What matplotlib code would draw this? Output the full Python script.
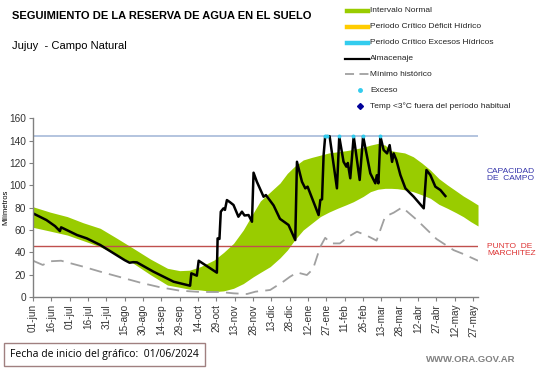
import matplotlib.pyplot as plt
from matplotlib.lines import Line2D
from matplotlib.patches import Rectangle

plt.rcParams['font.family'] = ['Liberation Sans', 'DejaVu Sans']

# days since 01/06/2024
tick_labels = ['01-jun', '16-jun', '01-jul', '16-jul', '31-jul', '15-ago', '30-ago', '14-sep',
               '29-sep', '14-oct', '29-oct', '13-nov', '28-nov', '13-dic', '28-dic', '12-ene',
               '27-ene', '11-feb', '26-feb', '13-mar', '28-mar', '12-abr', '27-abr', '12-may', '27-may']

# Intervalo normal (banda verde)
band_days = [0, 14, 28, 41, 55, 68, 82, 96, 110, 120, 128, 137, 148, 156, 164, 172, 180, 186,
             194, 202, 208, 214, 221, 228, 235, 242, 249, 256, 262, 270, 276, 282, 288, 293,
             298, 304, 311, 318, 325, 332, 339, 346, 352, 358, 364]
band_upper = [80.8, 76, 72, 66.5, 61.5, 53, 43.6, 34, 25.7, 23.6, 24, 27.2, 33, 40, 48, 60, 75, 86,
              94, 102, 110.7, 117, 122.7, 125, 127, 129, 130, 131, 132.2, 134, 136, 137.5, 136, 131,
              130, 129, 125.6, 120, 113.7, 106, 100.3, 95, 90.4, 86.5, 82.4]
band_lower = [62.4, 59, 55.5, 50.5, 45, 38, 30.2, 20, 10.7, 8.7, 7, 6.3, 4.8, 5.5, 7.8, 12, 18, 22,
              27.2, 35, 42, 51, 60, 66, 72, 76, 79.4, 82.5, 85.3, 90, 94.3, 96.5, 97.3, 97.3,
              97, 96, 94.3, 91.5, 88.4, 83, 79.4, 75.5, 71.9, 67.5, 63.6]

# Minimo historico
min_days = [0, 8, 14, 23, 28, 41, 55, 68, 88, 104, 120, 137, 153, 164, 175, 182, 194, 205, 210,
            216, 224, 229, 235, 239, 244, 251, 258, 265, 273, 281, 288, 295, 302, 314, 330, 344,
            352, 364]
min_vals = [32.5, 28.7, 32, 32.5, 31, 27.2, 22.7, 18.8, 12.8, 8.7, 5.7, 4.5, 4.5, 3.3, 2.7, 4.8,
            6.3, 14, 18, 22, 19.7, 25, 45, 53, 48, 48, 54, 58.5, 55, 50.5, 72, 75.5, 80.3, 69,
            52, 42, 38.5, 32.5]

# Almacenaje
alm_days = [0, 11, 18, 20.7, 22, 23, 36, 44, 55, 66, 75, 79, 82, 85, 98.5, 115, 128.5, 129.5, 134,
            135.5, 150.4, 151, 152.5, 153.6, 155.8, 157, 158.6, 161, 164, 168, 170.9, 173, 176.3,
            179.1, 180.4, 183.1, 188.6, 190.5, 196.8, 202, 209, 214.5, 215.9, 220, 222.7, 224.6,
            233.6, 235, 236.4, 237.7, 239, 242.6, 248.6, 250.5, 254, 256.3, 257.5, 259.5, 262.3,
            267.2, 270, 275.9, 280, 281.2, 282.5, 284.1, 286.8, 289.6, 291.7, 293.7, 295, 297.2,
            300.5, 304.6, 307.3, 311.4, 319.6, 321.8, 325, 329.1, 333.2, 337.3]
alm_vals = [74.9, 68.9, 63.5, 60.5, 59, 62.4, 55.5, 52.5, 46.6, 39.1, 33, 30.7, 31.2, 31, 22.7,
            13.7, 10.1, 21.2, 19.1, 32.5, 21.8, 52.5, 52, 76.4, 79.4, 78, 86.8, 85, 82.4, 71.9,
            76.4, 73, 73.4, 67.4, 111.3, 103.2, 89.8, 91.3, 82, 70, 64.5, 51, 121.1, 103.2, 97.3,
            98.8, 73.4, 86.8, 87.5, 127.1, 144, 144, 97.3, 143.5, 121.1, 116.7, 120, 106.3, 144,
            104.8, 144, 110.7, 101.8, 109, 101.8, 144, 131.6, 128.6, 136, 121, 128.6, 122.7,
            109.2, 97.3, 94.3, 89.8, 79.4, 113.7, 109.2, 98.8, 95.8, 90.4]

# Exceso
exc_days = [239.1, 240.4, 249.9, 261.7, 269.9, 284.1]
exc_vals = [144.5, 144.5, 144.5, 144.5, 144.5, 144.5]

capacidad = 144
marchitez = 45.5

fig = plt.figure(figsize=(5.41, 3.68), dpi=100)
ax = fig.add_axes([0.061, 0.1929, 0.8226, 0.4856])

green = '#99cc00'
ax.fill_between(band_days, band_lower, band_upper, color=green, lw=0)
ax.axhline(capacidad, color='#9fb4d6', lw=1.1)
ax.axhline(marchitez, color='#c0504d', lw=1.0)
ax.plot(min_days, min_vals, color='#a0a0a0', lw=1.3, dashes=(7, 4))
ax.plot(alm_days, alm_vals, color='black', lw=1.8)
ax.scatter(exc_days, exc_vals, color='#33ccee', s=8, zorder=5, lw=0)

ax.set_xlim(0, 364)
ax.set_ylim(0, 160)
ax.set_xticks(range(0, 361, 15))
ax.set_xticklabels(tick_labels, rotation=90, fontsize=7.2, color='#333333')
ax.set_yticks(range(0, 161, 20))
ax.tick_params(axis='y', labelsize=7.3, colors='#333333', length=3, width=0.8, pad=2)
ax.tick_params(axis='x', length=3, width=0.8, color='#808080', pad=2)
ax.tick_params(axis='y', color='#808080')
for s in ['top', 'right']:
    ax.spines[s].set_visible(False)
for s in ['left', 'bottom']:
    ax.spines[s].set_color('#808080')
    ax.spines[s].set_linewidth(1.0)

def fy(py):
    return 1 - py / 368

def fx(px):
    return px / 541

fig.text(fx(6), fy(207), 'Milímetros', fontsize=5.5, rotation=90, va='center', ha='center')

# titulos
fig.text(fx(12), fy(16), 'SEGUIMIENTO DE LA RESERVA DE AGUA EN EL SUELO', fontsize=8.0,
         fontweight='bold', va='center', ha='left')
fig.text(fx(12), fy(46), 'Jujuy  - Campo Natural', fontsize=8.0, va='center', ha='left')

# textos a la derecha
fig.text(fx(487), fy(175), 'CAPACIDAD\nDE  CAMPO', fontsize=6, color='#3333aa',
         va='center', ha='left', linespacing=1.1)
fig.text(fx(487), fy(250), 'PUNTO  DE\nMARCHITEZ', fontsize=6, color='#dd3333',
         va='center', ha='left', linespacing=1.1)

# leyenda
rows = [11, 26.7, 42.7, 58.7, 74, 90, 106]
for y, c in zip(rows[:3], [green, '#ffcc00', '#33ccee']):
    fig.add_artist(Line2D([fx(347), fx(368)], [fy(y), fy(y)], color=c, lw=3.2))
fig.add_artist(Line2D([fx(345), fx(369)], [fy(rows[3]), fy(rows[3])], color='black', lw=1.6))
fig.add_artist(Line2D([fx(345), fx(369)], [fy(rows[4]), fy(rows[4])], color='#a0a0a0', lw=1.3,
                      dashes=(5, 3)))
fig.add_artist(Line2D([fx(359.5)], [fy(rows[5])], color='#33ccee', marker='o', ms=2.5, lw=0))
fig.add_artist(Line2D([fx(360)], [fy(rows[6])], color='#000099', marker='D', ms=3, lw=0))
labels = ['Intervalo Normal', 'Periodo Crítico Déficit Hídrico', 'Periodo Crítico Excesos Hídricos',
          'Almacenaje', 'Mínimo histórico', 'Exceso', 'Temp <3°C fuera del período habitual']
for y, t in zip(rows, labels):
    fig.text(fx(370), fy(y), t, fontsize=6.0, va='center', ha='left', color='#222222')

# caja inferior
fig.add_artist(Rectangle((fx(4), fy(366)), fx(201), 23/368, fill=False, ec='#a08080', lw=1.0))
fig.text(fx(10), fy(355), 'Fecha de inicio del gráfico:  01/06/2024', fontsize=7.5,
         family=['Open Sans', 'DejaVu Sans'], va='center', ha='left')
fig.text(fx(515), fy(359), 'WWW.ORA.GOV.AR', fontsize=6.8, fontweight='bold', color='#808080',
         va='center', ha='right')

fig.savefig('out.png', dpi=100)
